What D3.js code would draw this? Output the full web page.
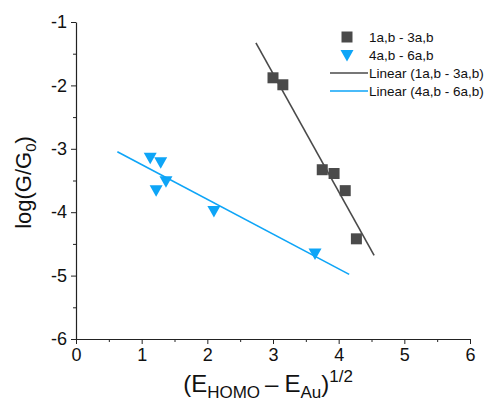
<!DOCTYPE html>
<html>
<head>
<meta charset="utf-8">
<script src="https://cdn.jsdelivr.net/npm/d3@7"></script>
<style>
  body { margin: 0; background: #fff; }
  text { font-family: "Liberation Sans", Arial, sans-serif; }
</style>
</head>
<body>
<div id="chart"></div>
<script>
// data
var grayX = [3.00, 3.15, 3.75, 3.93, 4.10, 4.27];
var grayY = [-1.88, -1.99, -3.33, -3.39, -3.66, -4.42];
var blueX = [1.13, 1.29, 1.37, 1.22, 2.10, 3.64];
var blueY = [-3.15, -3.22, -3.52, -3.66, -3.99, -4.66];
// linear fits: [x start, x end], slope, intercept
var grayFitX = [2.74, 4.54];
var grayFit = { slope: -1.862, intercept: 3.772 };
var blueFitX = [0.63, 4.16];
var blueFit = { slope: -0.548, intercept: -2.701 };
var xTicks = [0, 1, 2, 3, 4, 5, 6];
var yTicks = [-6, -5, -4, -3, -2, -1];
var legendLabels = ["1a,b - 3a,b", "4a,b - 6a,b", "Linear (1a,b - 3a,b)", "Linear (4a,b - 6a,b)"];

var width = 496, height = 405;
var gray = "#4a4a4a", blue = "#0ea5f7";

var svg = d3.select("#chart").append("svg")
    .attr("width", width)
    .attr("height", height);

var x = d3.scaleLinear().domain([0, 6]).range([76, 470]);
var y = d3.scaleLinear().domain([-6, -1]).range([339, 22]);

// minor ticks
svg.append("g")
    .attr("transform", "translate(0," + y(-6) + ")")
    .call(d3.axisBottom(x).tickValues(d3.range(0.5, 6, 1)).tickSize(3).tickFormat(""))
    .call(function(g) { g.select(".domain").remove(); });
svg.append("g")
    .attr("transform", "translate(" + x(0) + ",0)")
    .call(d3.axisLeft(y).tickValues(d3.range(-5.5, -1, 1)).tickSize(3).tickFormat(""))
    .call(function(g) { g.select(".domain").remove(); });

var xAxis = svg.append("g")
    .attr("transform", "translate(0," + y(-6) + ")")
    .call(d3.axisBottom(x).tickValues(xTicks).tickSize(5).tickSizeOuter(0).tickFormat(function(d) { return String(d); }));
var yAxis = svg.append("g")
    .attr("transform", "translate(" + x(0) + ",0)")
    .call(d3.axisLeft(y).tickValues(yTicks).tickSize(5).tickSizeOuter(0).tickFormat(function(d) { return String(d); }));

svg.selectAll(".domain").attr("stroke", "#222").attr("stroke-width", 1.2);
svg.selectAll(".tick line").attr("stroke", "#222");
xAxis.selectAll("text").attr("font-size", 18).attr("fill", "#111").attr("dy", "0.78em");
yAxis.selectAll("text").attr("font-size", 18).attr("fill", "#111").attr("dx", "-0.05em");

// axis titles
svg.append("text")
    .attr("transform", "translate(31," + (y(-3.5) + 2) + ") rotate(-90)")
    .attr("text-anchor", "middle")
    .attr("font-size", 22)
    .attr("fill", "#111")
    .html('log(G/G<tspan font-size="15" dy="5">0</tspan><tspan dy="-5">)</tspan>');

svg.append("text")
    .attr("x", 268)
    .attr("y", 392)
    .attr("text-anchor", "middle")
    .attr("font-size", 24)
    .attr("fill", "#111")
    .html('(E<tspan font-size="17" dy="6">HOMO</tspan><tspan dy="-6" dx="5">\u2013</tspan><tspan dx="6">E</tspan><tspan font-size="17" dy="6">Au</tspan><tspan dy="-6">)</tspan><tspan font-size="17" dy="-10">1/2</tspan>');

// fit lines
function fitLine(xs, fit, color) {
  svg.append("line")
      .attr("x1", x(xs[0])).attr("y1", y(fit.slope * xs[0] + fit.intercept))
      .attr("x2", x(xs[1])).attr("y2", y(fit.slope * xs[1] + fit.intercept))
      .attr("stroke", color)
      .attr("stroke-width", 1.6);
}

var square = d3.symbol().type(d3.symbolSquare).size(121);
var tri = "M-6.5,-5.5L6.5,-5.5L0,6Z";

svg.append("g").selectAll("path")
    .data(grayX)
    .enter().append("path")
      .attr("d", square)
      .attr("transform", function(d, i) { return "translate(" + x(d) + "," + y(grayY[i]) + ")"; })
      .attr("fill", gray);

svg.append("g").selectAll("path")
    .data(blueX)
    .enter().append("path")
      .attr("d", tri)
      .attr("transform", function(d, i) { return "translate(" + x(d) + "," + y(blueY[i]) + ")"; })
      .attr("fill", blue);

fitLine(grayFitX, grayFit, gray);
fitLine(blueFitX, blueFit, blue);

// legend
var legY = [37, 55.5, 73, 91];
var leg = svg.append("g");
leg.append("path").attr("d", square).attr("transform", "translate(347," + legY[0] + ")").attr("fill", gray);
leg.append("path").attr("d", tri).attr("transform", "translate(347," + legY[1] + ")").attr("fill", blue);
leg.append("line").attr("x1", 330).attr("x2", 368).attr("y1", legY[2]).attr("y2", legY[2]).attr("stroke", gray).attr("stroke-width", 1.6);
leg.append("line").attr("x1", 330).attr("x2", 368).attr("y1", legY[3]).attr("y2", legY[3]).attr("stroke", blue).attr("stroke-width", 1.6);
leg.selectAll("text.lab")
    .data(legendLabels)
    .enter().append("text")
      .attr("class", "lab")
      .attr("x", 369)
      .attr("y", function(d, i) { return legY[i]; })
      .attr("dy", "0.35em")
      .attr("font-size", 13.5)
      .attr("fill", "#111")
      .text(function(d) { return d; });
</script>
</body>
</html>
